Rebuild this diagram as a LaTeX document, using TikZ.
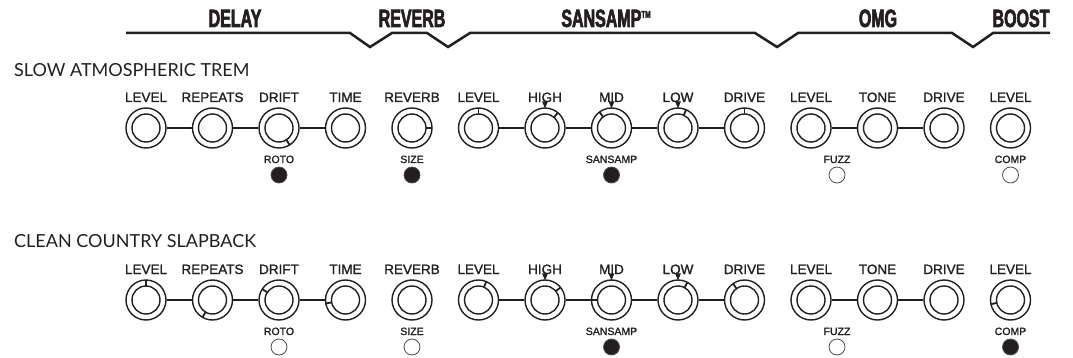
\documentclass[tikz,border=0pt]{standalone}
\usepackage{fontspec}
\setmainfont{Liberation Sans}
\newfontfamily\titlefont{Lato}
\newfontfamily\labelfont{Liberation Sans}[FakeBold=1.5]
\newfontfamily\headfont{Liberation Sans}[FakeStretch=0.64, FakeBold=2.5]
\definecolor{ink}{RGB}{35,31,32}
\tikzset{
  knob/.style={circle, draw=ink, line width=1.4pt, fill=white, minimum size=40pt, inner sep=0pt,
    path picture={\draw[ink, line width=1.4pt] (path picture bounding box.center) circle (14pt);}},
  led/.style={circle, draw=ink!80, line width=0.8pt, minimum size=16pt, inner sep=0pt},
  knoblabel/.style={font=\labelfont\fontsize{13.5}{13.5}\selectfont, text=ink, inner sep=0pt, anchor=base},
  smalllabel/.style={font=\labelfont\fontsize{10.5}{10.5}\selectfont, text=ink, inner sep=0pt, anchor=base},
  headlabel/.style={font=\headfont\bfseries\fontsize{25}{25}\selectfont, text=ink, inner sep=0pt, anchor=base},
  rowtitle/.style={font=\titlefont\fontsize{18}{18}\selectfont, text=ink, inner sep=0pt, anchor=base west},
  wire/.style={ink, line width=1.5pt},
  pointer/.style={ink, line width=1.8pt}
}
\begin{document}
\begin{tikzpicture}[x=1pt, y=1pt]
\useasboundingbox (0,0) rectangle (1073,-358);
\draw [ink, line width=2.5pt, line join=miter] (126,-33) -- (350,-33) -- (370,-47) -- (392,-33) -- (427,-33) -- (448,-47) -- (470,-33)
  -- (755,-33) -- (777,-47) -- (798,-33) -- (952,-33) -- (973,-47) -- (993,-33) -- (1050,-33);
\node[headlabel] (hdelay) at (235,-27) {DELAY};
\node[headlabel] (hreverb) at (412,-27) {REVERB};
\node[headlabel] (hsansamp) at (606,-27) {SANSAMP\raisebox{9pt}{\fontsize{10}{10}\selectfont TM}};
\node[headlabel] (homg) at (878,-27) {OMG};
\node[headlabel] (hboost) at (1021,-27) {BOOST};
\node[rowtitle] (slow) at (14,-77) {SLOW ATMOSPHERIC TREM};
\node[rowtitle] (clean) at (14,-247) {CLEAN COUNTRY SLAPBACK};
\foreach \r/\y in {a/-128, b/-300}{
  \foreach \i/\x/\txt in {1/146/LEVEL, 2/212.5/REPEATS, 3/279/DRIFT, 4/345.5/TIME, 5/412/REVERB, 6/478.5/LEVEL, 7/545/HIGH,
      8/611.5/MID, 9/678/LOW, 10/744.5/DRIVE, 11/811/LEVEL, 12/877.5/TONE, 13/944/DRIVE, 14/1010.5/LEVEL}{
    \node[knob] (\r\i) at (\x,\y) {};
    \node[knoblabel] (\r\i t) at (\x,\y+26) {\txt};
  }
  \draw[wire] (\r1) -- (\r2) (\r2) -- (\r3) (\r3) -- (\r4);
  \draw[wire] (\r6) -- (\r7) (\r7) -- (\r8) (\r8) -- (\r9) (\r9) -- (\r10);
  \draw[wire] (\r11) -- (\r12) (\r12) -- (\r13);
  \foreach \i in {7, 8, 9}{\fill[ink] (\r\i.north) ++(-3,6) -- ++(6,0) -- ++(-3,-7) -- cycle;}
}
\foreach \k/\ang in {a3/-58, a5/0, a6/90, a7/50, a8/127, a9/66, a10/90,
    b1/90, b2/240, b3/147, b4/190, b6/67, b7/39, b8/180, b9/62, b10/125, b14/192}
  \draw[pointer] (\k.center) ++(\ang:14pt) -- ++(\ang:6pt);
\foreach \n/\x/\txt/\f in {1/279/ROTO/ink, 2/412/SIZE/ink, 3/611.5/SANSAMP/ink, 4/837/FUZZ/white, 5/1010.5/COMP/white}{
  \node[led, fill=\f] (aled\n) at (\x,-175) {};
  \node[smalllabel] (aled\n t) at (\x,-163) {\txt};
}
\foreach \n/\x/\txt/\f in {1/279/ROTO/white, 2/412/SIZE/white, 3/611.5/SANSAMP/ink, 4/837/FUZZ/white, 5/1010.5/COMP/ink}{
  \node[led, fill=\f] (bled\n) at (\x,-347) {};
  \node[smalllabel] (bled\n t) at (\x,-335) {\txt};
}
\end{tikzpicture}
\end{document}
